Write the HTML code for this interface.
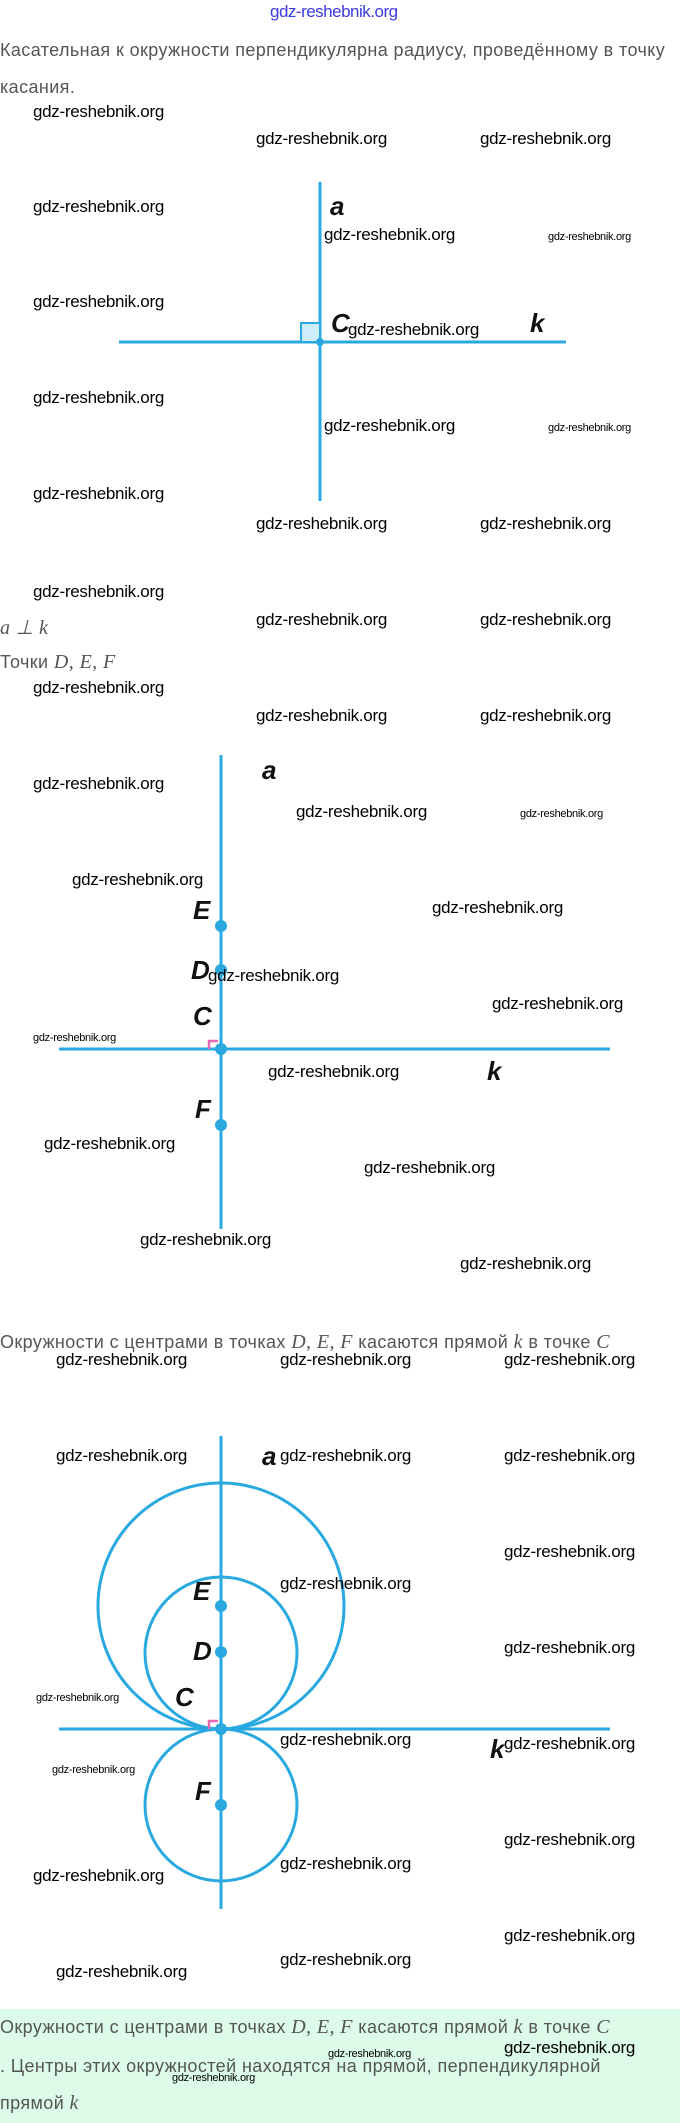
<!DOCTYPE html>
<html><head><meta charset="utf-8"><style>
body{margin:0;width:680px;height:2123px;position:relative;background:#fff;overflow:hidden;font-family:"Liberation Sans",sans-serif}
.w{position:absolute;font-size:17px;line-height:20px;color:#000;white-space:nowrap;letter-spacing:-0.3px}
.s{position:absolute;font-size:11px;line-height:14px;color:#000;white-space:nowrap;letter-spacing:-0.3px}
.t{position:absolute;left:0;font-size:18px;line-height:24px;color:#555;white-space:nowrap;letter-spacing:0.4px}
.m{font-family:"Liberation Serif",serif;font-style:italic;font-size:20px}
.L{position:absolute;font-family:"Liberation Sans",sans-serif;font-style:italic;font-weight:bold;font-size:26px;line-height:30px;color:#111}
svg{position:absolute;left:0;top:0}
</style></head><body>
<svg width="680" height="2123">
<rect x="0" y="2009" width="680" height="114" fill="#dcfbe9"/>
<g stroke="#29a9e0" stroke-width="3" fill="none">
<line x1="320" y1="182" x2="320" y2="501"/>
<line x1="119" y1="342" x2="566" y2="342"/>
<rect x="301" y="323" width="19" height="19" fill="#cfeefb" stroke-width="2"/>
<line x1="221" y1="755" x2="221" y2="1229"/>
<line x1="59" y1="1049" x2="610" y2="1049"/>
<line x1="221" y1="1436" x2="221" y2="1909"/>
<line x1="59" y1="1729" x2="610" y2="1729"/>
<circle cx="221" cy="1606" r="123"/>
<circle cx="221" cy="1653" r="76"/>
<circle cx="221" cy="1805" r="76"/>
</g>
<g fill="#29a9e0">
<circle cx="320" cy="342" r="4"/>
<circle cx="221" cy="926" r="6"/><circle cx="221" cy="970" r="6"/><circle cx="221" cy="1049" r="6"/><circle cx="221" cy="1125" r="6"/>
<circle cx="221" cy="1606" r="6"/><circle cx="221" cy="1652" r="6"/><circle cx="221" cy="1729" r="6"/><circle cx="221" cy="1805" r="6"/>
</g>
<path d="M209 1049 V1041 H218" stroke="#e868b0" stroke-width="2.5" fill="none"/>
<path d="M209 1729 V1721 H218" stroke="#e868b0" stroke-width="2.5" fill="none"/>
</svg>
<div style="position:absolute;left:270px;top:2px;font-size:17px;color:#3a3ae0;letter-spacing:-0.5px">gdz-reshebnik.org</div>
<div class="t" style="top:38px">Касательная к окружности перпендикулярна радиусу, проведённому в точку</div>
<div class="t" style="top:75px">касания.</div>
<div class="L" style="left:330px;top:191px">a</div>
<div class="L" style="left:331px;top:308px">C</div>
<div class="L" style="left:530px;top:308px">k</div>
<div class="t" style="top:616px"><span class="m">a ⊥ k</span></div>
<div class="t" style="top:650px">Точки <span class="m">D, E, F</span></div>
<div class="L" style="left:262px;top:755px">a</div>
<div class="L" style="left:193px;top:895px">E</div>
<div class="L" style="left:191px;top:955px">D</div>
<div class="L" style="left:193px;top:1001px">C</div>
<div class="L" style="left:487px;top:1056px">k</div>
<div class="L" style="left:195px;top:1094px">F</div>
<div class="t" style="top:1330px">Окружности с центрами в точках <span class="m">D, E, F</span> касаются прямой <span class="m">k</span> в точке <span class="m">C</span></div>
<div class="L" style="left:262px;top:1441px">a</div>
<div class="L" style="left:193px;top:1576px">E</div>
<div class="L" style="left:193px;top:1636px">D</div>
<div class="L" style="left:175px;top:1682px">C</div>
<div class="L" style="left:195px;top:1776px">F</div>
<div class="L" style="left:490px;top:1734px">k</div>
<div class="t" style="top:2015px">Окружности с центрами в точках <span class="m">D, E, F</span> касаются прямой <span class="m">k</span> в точке <span class="m">C</span></div>
<div class="t" style="top:2054px">. Центры этих окружностей находятся на прямой, перпендикулярной</div>
<div class="t" style="top:2091px">прямой <span class="m">k</span></div>

<div class="w" style="left:33px;top:102px">gdz-reshebnik.org</div>
<div class="w" style="left:256px;top:129px">gdz-reshebnik.org</div>
<div class="w" style="left:480px;top:129px">gdz-reshebnik.org</div>
<div class="w" style="left:33px;top:197px">gdz-reshebnik.org</div>
<div class="w" style="left:324px;top:225px">gdz-reshebnik.org</div>
<div class="s" style="left:548px;top:230px">gdz-reshebnik.org</div>
<div class="w" style="left:33px;top:292px">gdz-reshebnik.org</div>
<div class="w" style="left:348px;top:320px">gdz-reshebnik.org</div>
<div class="w" style="left:33px;top:388px">gdz-reshebnik.org</div>
<div class="w" style="left:324px;top:416px">gdz-reshebnik.org</div>
<div class="s" style="left:548px;top:421px">gdz-reshebnik.org</div>
<div class="w" style="left:33px;top:484px">gdz-reshebnik.org</div>
<div class="w" style="left:256px;top:514px">gdz-reshebnik.org</div>
<div class="w" style="left:480px;top:514px">gdz-reshebnik.org</div>
<div class="w" style="left:33px;top:582px">gdz-reshebnik.org</div>
<div class="w" style="left:256px;top:610px">gdz-reshebnik.org</div>
<div class="w" style="left:480px;top:610px">gdz-reshebnik.org</div>
<div class="w" style="left:33px;top:678px">gdz-reshebnik.org</div>
<div class="w" style="left:256px;top:706px">gdz-reshebnik.org</div>
<div class="w" style="left:480px;top:706px">gdz-reshebnik.org</div>
<div class="w" style="left:33px;top:774px">gdz-reshebnik.org</div>
<div class="w" style="left:296px;top:802px">gdz-reshebnik.org</div>
<div class="s" style="left:520px;top:807px">gdz-reshebnik.org</div>
<div class="w" style="left:72px;top:870px">gdz-reshebnik.org</div>
<div class="w" style="left:432px;top:898px">gdz-reshebnik.org</div>
<div class="w" style="left:208px;top:966px">gdz-reshebnik.org</div>
<div class="w" style="left:492px;top:994px">gdz-reshebnik.org</div>
<div class="s" style="left:33px;top:1031px">gdz-reshebnik.org</div>
<div class="w" style="left:268px;top:1062px">gdz-reshebnik.org</div>
<div class="w" style="left:44px;top:1134px">gdz-reshebnik.org</div>
<div class="w" style="left:364px;top:1158px">gdz-reshebnik.org</div>
<div class="w" style="left:140px;top:1230px">gdz-reshebnik.org</div>
<div class="w" style="left:460px;top:1254px">gdz-reshebnik.org</div>
<div class="w" style="left:56px;top:1350px">gdz-reshebnik.org</div>
<div class="w" style="left:280px;top:1350px">gdz-reshebnik.org</div>
<div class="w" style="left:504px;top:1350px">gdz-reshebnik.org</div>
<div class="w" style="left:56px;top:1446px">gdz-reshebnik.org</div>
<div class="w" style="left:280px;top:1446px">gdz-reshebnik.org</div>
<div class="w" style="left:504px;top:1446px">gdz-reshebnik.org</div>
<div class="w" style="left:504px;top:1542px">gdz-reshebnik.org</div>
<div class="w" style="left:280px;top:1574px">gdz-reshebnik.org</div>
<div class="w" style="left:504px;top:1638px">gdz-reshebnik.org</div>
<div class="s" style="left:36px;top:1691px">gdz-reshebnik.org</div>
<div class="w" style="left:280px;top:1730px">gdz-reshebnik.org</div>
<div class="w" style="left:504px;top:1734px">gdz-reshebnik.org</div>
<div class="s" style="left:52px;top:1763px">gdz-reshebnik.org</div>
<div class="w" style="left:504px;top:1830px">gdz-reshebnik.org</div>
<div class="w" style="left:280px;top:1854px">gdz-reshebnik.org</div>
<div class="w" style="left:33px;top:1866px">gdz-reshebnik.org</div>
<div class="w" style="left:504px;top:1926px">gdz-reshebnik.org</div>
<div class="w" style="left:280px;top:1950px">gdz-reshebnik.org</div>
<div class="w" style="left:56px;top:1962px">gdz-reshebnik.org</div>
<div class="w" style="left:504px;top:2038px">gdz-reshebnik.org</div>
<div class="s" style="left:328px;top:2047px">gdz-reshebnik.org</div>
<div class="s" style="left:172px;top:2071px">gdz-reshebnik.org</div>
</body></html>
